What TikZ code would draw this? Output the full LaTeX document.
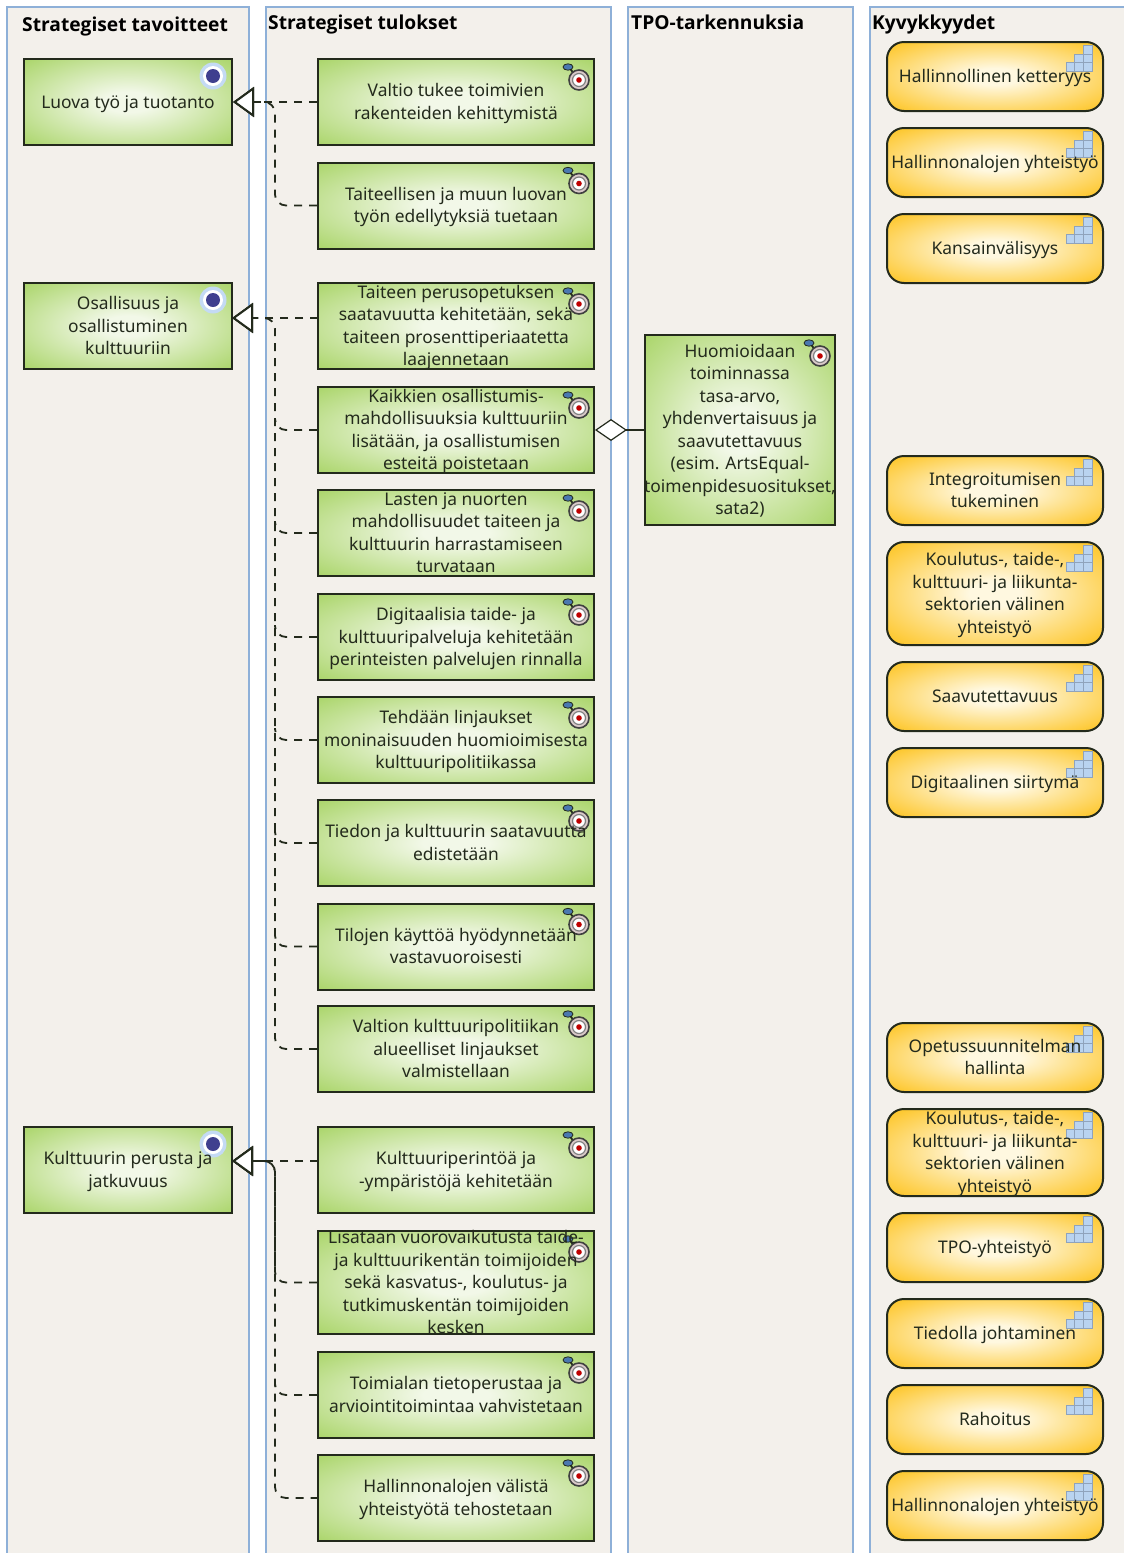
\documentclass[tikz,border=0pt]{standalone}
\usepackage{fontspec}
\setmainfont{Noto Sans}
\newfontfamily\titlefont{Open Sans}
\usetikzlibrary{arrows.meta}

\definecolor{laneback}{HTML}{F3F0EB}
\definecolor{laneline}{HTML}{8EB0D8}
\definecolor{greenmid}{HTML}{F2F8E8}
\definecolor{greenedge}{HTML}{A4D25F}
\definecolor{yellowmid}{HTML}{FFF8E0}
\definecolor{yellowedge}{HTML}{FDBE0C}
\definecolor{inkdark}{HTML}{232A1C}
\definecolor{gridblue}{HTML}{B9D3F0}
\definecolor{gridline}{HTML}{8FA3BC}
\definecolor{goalring}{HTML}{C4DAF4}
\definecolor{goalcore}{HTML}{3F3F8F}
\definecolor{darthead}{HTML}{4A78B0}
\definecolor{dartring}{HTML}{D9C9C9}
\pgfdeclareradialshading{greenglow}{\pgfpointorigin}{color(0bp)=(greenmid); color(6bp)=(greenmid); color(38bp)=(greenedge); color(70bp)=(greenedge)}
\pgfdeclareradialshading{yellowglow}{\pgfpointorigin}{color(0bp)=(yellowmid); color(6bp)=(yellowmid); color(38bp)=(yellowedge); color(70bp)=(yellowedge)}

% text may run over the box, so it takes no room
\newcommand{\boxtext}[1]{\vbox to 0pt{\vskip 3pt\vss\hbox to 0pt{\hss\begin{tabular}{@{}c@{}}#1\end{tabular}\hss}\vss}}

\begin{document}
\begin{tikzpicture}[x=1pt,y=-1pt]
	\tikzset{
		lane/.style = {fill = laneback,draw = laneline,line width = 1.6pt},
		lanetitle/.style = {anchor = base west,inner sep = 0pt,font = \fontsize{19.2}{22}\titlefont\bfseries,text = black},
		% the marks take the top right corner of the box
		goalmark/.style = {path picture = {
			\begin{scope}[sharp corners]
				\pgftransformshift{\pgfpointanchor{path picture bounding box}{north east}}
				\fill[goalring] (-19,17) circle (13.5);
				\fill[white] (-19,17) circle (10);
				\fill[goalcore] (-19,17) circle (7);
			\end{scope}}},
		dartmark/.style = {path picture = {
			\begin{scope}[sharp corners]
				\pgftransformshift{\pgfpointanchor{path picture bounding box}{north east}}
				\draw[line width = 1.8pt,inkdark] (-26,7) -- (-15,21);
				\filldraw[fill = darthead,draw = inkdark,line width = 0.8pt,rotate around = {-50:(-26,8)}] (-26,8) ellipse (5 and 3.2);
				\filldraw[fill = dartring,draw = darkgray,line width = 1.6pt] (-15,21) circle (10);
				\draw[gray,line width = 1.2pt,fill = white] (-15,21) circle (6.5);
				\fill[red!75!black] (-15,21) circle (2.8);
			\end{scope}}},
		stairmark/.style = {path picture = {
			\begin{scope}[sharp corners]
				\pgftransformshift{\pgfpointanchor{path picture bounding box}{north east}}
				\filldraw[fill = gridblue,draw = gridline,line width = 0.8pt] (-20,3) rectangle (-11,12);
				\filldraw[fill = gridblue,draw = gridline,line width = 0.8pt] (-28.500,12) rectangle (-20,20.500);
				\filldraw[fill = gridblue,draw = gridline,line width = 0.8pt] (-20,12) rectangle (-11,20.500);
				\filldraw[fill = gridblue,draw = gridline,line width = 0.8pt] (-37,20.500) rectangle (-28.500,29);
				\filldraw[fill = gridblue,draw = gridline,line width = 0.8pt] (-28.500,20.500) rectangle (-20,29);
				\filldraw[fill = gridblue,draw = gridline,line width = 0.8pt] (-20,20.500) rectangle (-11,29);
			\end{scope}}},
		greenbox/.style = {rectangle,draw = inkdark,line width = 2pt,shading = greenglow,inner sep = 0pt,
			text = inkdark,font = \fontsize{17.4}{22.5}\selectfont},
		goalbox/.style = {greenbox,goalmark,minimum width = 208pt,minimum height = 86pt},
		outcomebox/.style = {greenbox,dartmark,minimum width = 276pt,minimum height = 86pt},
		abilitybox/.style = {rectangle,rounded corners = 17pt,draw = inkdark,line width = 2pt,shading = yellowglow,stairmark,
			inner sep = 0pt,text = inkdark,font = \fontsize{17.4}{22.5}\selectfont,minimum width = 216pt,minimum height = 69pt},
		busline/.style = {line width = 1.8pt,inkdark,dash pattern = on 8pt off 7pt,rounded corners = 11pt},
		realize/.style = {busline,
			-{Triangle[open,fill = white,length = 21pt,width = 30pt,line width = 2pt]}},
		partof/.style = {line width = 1.8pt,inkdark,
			-{Diamond[open,fill = white,length = 32pt,width = 22pt,line width = 1.2pt]}}
	}
	\useasboundingbox (0,0) rectangle (1124,1553);
	\clip (0,0) rectangle (1124,1553);
	\fill[white] (0,0) rectangle (1124,1553);

	% lanes
	\filldraw[lane] (7,7) rectangle (249,1570);
	\filldraw[lane] (266,7) rectangle (611,1570);
	\filldraw[lane] (628,7) rectangle (853,1570);
	\filldraw[lane] (870,7) rectangle (1140,1570);
	\node[lanetitle] (T1) at (22,31){Strategiset tavoitteet};
	\node[lanetitle] (T2) at (268,29){Strategiset tulokset};
	\node[lanetitle] (T3) at (631,29){TPO-tarkennuksia};
	\node[lanetitle] (T4) at (872,29){Kyvykkyydet};

	% goals
	\node[goalbox] (G1) at (128,102){\boxtext{Luova työ ja tuotanto}};
	\node[goalbox] (G2) at (128,326){\boxtext{Osallisuus ja\\osallistuminen\\kulttuuriin}};
	\node[goalbox] (G3) at (128,1170){\boxtext{Kulttuurin perusta  ja\\jatkuvuus}};

	% outcomes
	\node[outcomebox] (O1) at (456,102){\boxtext{Valtio tukee toimivien\\rakenteiden kehittymistä}};
	\node[outcomebox] (O2) at (456,205.500){\boxtext{Taiteellisen ja muun luovan\\työn edellytyksiä tuetaan}};
	\node[outcomebox] (O3) at (456,326){\boxtext{Taiteen perusopetuksen\\saatavuutta kehitetään, sekä\\taiteen prosenttiperiaatetta\\laajennetaan}};
	\node[outcomebox] (O4) at (456,430){\boxtext{Kaikkien osallistumis-\\mahdollisuuksia kulttuuriin\\lisätään, ja osallistumisen\\esteitä poistetaan}};
	\node[outcomebox] (O5) at (456,533){\boxtext{Lasten ja nuorten\\mahdollisuudet taiteen ja\\kulttuurin harrastamiseen\\turvataan}};
	\node[outcomebox] (O6) at (456,637){\boxtext{Digitaalisia taide- ja\\kulttuuripalveluja kehitetään\\perinteisten palvelujen rinnalla}};
	\node[outcomebox] (O7) at (456,740){\boxtext{Tehdään linjaukset\\moninaisuuden huomioimisesta\\kulttuuripolitiikassa}};
	\node[outcomebox] (O8) at (456,843){\boxtext{Tiedon ja kulttuurin saatavuutta\\edistetään}};
	\node[outcomebox] (O9) at (456,946.500){\boxtext{Tilojen käyttöä hyödynnetään\\vastavuoroisesti}};
	\node[outcomebox] (O10) at (456,1049){\boxtext{Valtion kulttuuripolitiikan\\alueelliset linjaukset\\valmistellaan}};
	\node[outcomebox] (O11) at (456,1170){\boxtext{Kulttuuriperintöä ja\\-ympäristöjä kehitetään}};
	\node[outcomebox,minimum height = 103pt] (O12) at (456,1282.500){\boxtext{Lisätään vuorovaikutusta taide-\\ja kulttuurikentän toimijoiden\\sekä kasvatus-, koulutus- ja\\tutkimuskentän toimijoiden\\kesken}};
	\node[outcomebox] (O13) at (456,1395){\boxtext{Toimialan tietoperustaa ja\\arviointitoimintaa vahvistetaan}};
	\node[outcomebox] (O14) at (456,1498){\boxtext{Hallinnonalojen välistä\\yhteistyötä tehostetaan}};

	% refinement
	\node[greenbox,dartmark,minimum width = 190pt,minimum height = 190pt] (R1) at (740,430){\boxtext{Huomioidaan\\toiminnassa\\tasa-arvo,\\yhdenvertaisuus ja\\saavutettavuus\\(esim. ArtsEqual-\\toimenpidesuositukset,\\sata2)}};

	% capabilities
	\node[abilitybox] (C1) at (995,76.500){\boxtext{Hallinnollinen ketteryys}};
	\node[abilitybox] (C2) at (995,162.500){\boxtext{Hallinnonalojen yhteistyö}};
	\node[abilitybox] (C3) at (995,248.500){\boxtext{Kansainvälisyys}};
	\node[abilitybox] (C4) at (995,490.500){\boxtext{Integroitumisen\\tukeminen}};
	\node[abilitybox,minimum height = 103pt] (C5) at (995,593.500){\boxtext{Koulutus-, taide-,\\kulttuuri- ja liikunta-\\sektorien välinen\\yhteistyö}};
	\node[abilitybox] (C6) at (995,696.500){\boxtext{Saavutettavuus}};
	\node[abilitybox] (C7) at (995,782.500){\boxtext{Digitaalinen siirtymä}};
	\node[abilitybox] (C8) at (995,1057.500){\boxtext{Opetussuunnitelman\\hallinta}};
	\node[abilitybox,minimum height = 87pt] (C9) at (995,1152.500){\boxtext{Koulutus-, taide-,\\kulttuuri- ja liikunta-\\sektorien välinen\\yhteistyö}};
	\node[abilitybox] (C10) at (995,1247.500){\boxtext{TPO-yhteistyö}};
	\node[abilitybox] (C11) at (995,1333.500){\boxtext{Tiedolla johtaminen}};
	\node[abilitybox] (C12) at (995,1419.500){\boxtext{Rahoitus}};
	\node[abilitybox] (C13) at (995,1505.500){\boxtext{Hallinnonalojen yhteistyö}};

	% ports that sit above the middle of a box
	\coordinate (G2p) at (232,318);
	\coordinate (O3p) at (318,318);
	\coordinate (G3p) at (232,1161);
	\coordinate (O11p) at (318,1161);
	\coordinate (B1) at (275,102);
	\coordinate (B2) at (275,318);
	\coordinate (B3) at (275,1161);

	\draw[realize] (O1.west) -- (G1.east);
	\draw[realize] (O2.west) -| (B1) -- (G1.east);
	\draw[realize] (O3p) -- (G2p);
	\draw[busline] (O4.west) -| ([yshift = 12pt]O4.west -| B2);
	\draw[busline] (O5.west) -| ([yshift = 12pt]O5.west -| B2);
	\draw[busline] (O6.west) -| ([yshift = 12pt]O6.west -| B2);
	\draw[busline] (O7.west) -| ([yshift = 12pt]O7.west -| B2);
	\draw[busline] (O8.west) -| ([yshift = 12pt]O8.west -| B2);
	\draw[busline] (O9.west) -| ([yshift = 12pt]O9.west -| B2);
	\draw[realize] (O10.west) -| (B2) -- (G2p);
	\draw[realize] (O11p) -- (G3p);
	\draw[realize] (O12.west) -| (B3) -- (G3p);
	\draw[busline] (O13.west) -| ([yshift = 12pt]O13.west -| B3);
	\draw[realize,dash phase = 1.5pt] (O14.west) -| (B3) -- (G3p);
	\draw[partof] (R1.west) -- (O4.east);
\end{tikzpicture}
\end{document}
